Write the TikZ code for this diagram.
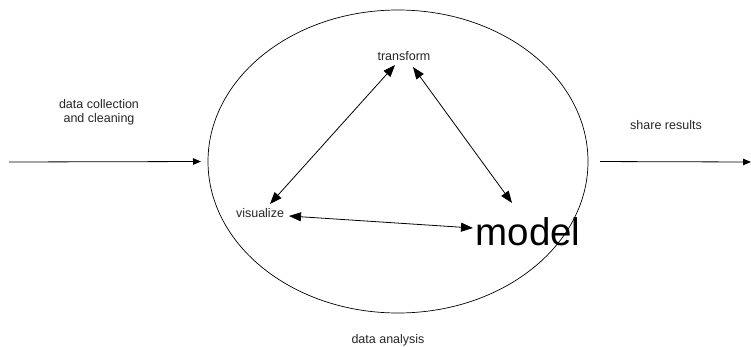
\documentclass[tikz,border=0pt]{standalone}
\usepackage{fontspec}
\setmainfont{Liberation Sans}
\usetikzlibrary{arrows.meta,shapes.geometric}
\begin{document}
\begin{tikzpicture}[x=1pt,y=-1pt,
  lbl/.style={font=\fontsize{12.5}{14.5}\selectfont, inner sep=0pt, anchor=base, text=black!85},
  big/.style={font=\fontsize{38.5}{40}\selectfont, inner sep=0pt, anchor=base},
  flow/.style={line width=0.8pt, -{Triangle[length=8pt,width=6.5pt]}},
  link/.style={line width=0.8pt, {Triangle[length=12pt,width=9pt]}-{Triangle[length=12pt,width=9pt]}}]
\useasboundingbox (0,0) rectangle (751,347);
\node[draw, line width=0.7pt, ellipse, minimum width=380pt, minimum height=303pt, inner sep=0pt, outer sep=0pt] (cycle) at (398,161.5) {};
\node[lbl] (transform) at (404,61) {transform};
\node[lbl] (vis) at (260,218) {visualize};
\node[big] (model) at (528,245) {model};
\node[lbl] (analysis) at (388,343) {data analysis};
\node[lbl, align=center] (collect) at (99,123) {data collection\\and cleaning};
\node[lbl] (share) at (666,130) {share results};
\coordinate (start) at (9,162);
\coordinate (finish) at (751,162);
\draw[flow, shorten >=7pt] (start) -- (cycle.west);
\draw[flow, shorten <=12pt] (cycle.east) -- (finish);
\draw[link] ([xshift=10pt,yshift=14pt]vis.base) -- ([xshift=-9pt,yshift=-4pt]transform.base);
\draw[link] ([xshift=9pt,yshift=-6pt]transform.base) -- ([xshift=-16pt,yshift=42pt]model.base);
\draw[link] ([xshift=29pt,yshift=2pt]vis.base) -- ([xshift=-55pt,yshift=17pt]model.base);
\end{tikzpicture}
\end{document}
